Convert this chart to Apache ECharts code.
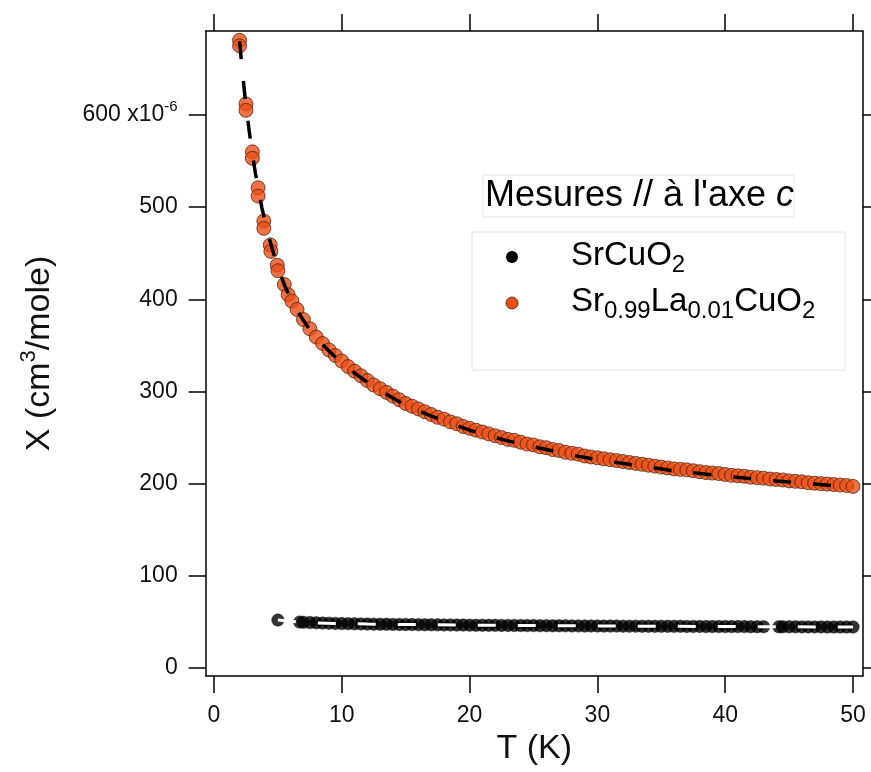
<!DOCTYPE html>
<html><head><meta charset="utf-8">
<script src="https://cdn.jsdelivr.net/npm/echarts@6/dist/echarts.min.js"></script>
<style>html,body{margin:0;padding:0;background:#fff}#c{width:871px;height:772px}</style>
</head><body><div id="c"></div>
<script>
// Sr0.99La0.01CuO2 measured points (T in K, chi in 1e-6 cm3/mole)
const laT = [2.0,2.0,2.5,2.5,3.0,3.0,3.45,3.45,3.9,3.9,4.4,4.45,4.95,5.0,5.5,5.8,6.1,6.5,7.0,7.5,8.0,8.5,9.0,9.5,10.0,
  10.5,11,11.5,12,12.5,13,13.5,14,14.5,15,15.5,16,16.5,17,17.5,18,18.5,19,19.5,20,20.5,21,21.5,22,22.5,23,23.5,24,24.5,25,
  25.5,26,26.5,27,27.5,28,28.5,29,29.5,30,30.5,31,31.5,32,32.5,33,33.5,34,34.5,35,35.5,36,36.5,37,37.5,38,38.5,39,39.5,40,
  40.5,41,41.5,42,42.5,43,43.5,44,44.5,45,45.5,46,46.5,47,47.5,48,48.5,49,49.5,50];
const laChi = [681,675,612,605,560,553,521,512,485,477,459,452,437,431,416,405,398,389,378,368,359,352,345,339,333,
  327,322,317,312,307,303,299,295,291,287,284,281,278,275,272,270,267,265,262,260,258,256,254,252,250,248,247,245,243,242,
  240,239,237,236,234,233,232,230,229,228,227,226,225,224,223,222,221,220,219,218,217,216,215.5,215,214,213,212,211.5,211,210,
  209,208.5,208,207,206.5,206,205,204.5,204,203,202.5,202,201,200.5,200,199.5,199,198.5,198,197];
// Fit curve for Sr0.99La0.01CuO2
const laFitT = [2.0,2.25,2.5,2.75,3.0,3.25,3.5,3.75,4.0,4.5,5.0,5.5,6.0,6.5,7,7.5,8,9,10,11,12,13,14,15,16,18,20,22,24,26,28,30,33,36,40,44,47,50];
const laFitChi = [680,643,610,583,558,536,517,499,484,457,435,416,401,388,377,367,358,344,331,320,310,301,293,285,279,268,258,250,243,237,231,226,220,214,208,203,199.5,196];
// SrCuO2 measured points
const srT = [5.0,6.7,7.0,7.5,8.0,8.5,9.0,9.5,10.0,10.5,11,11.5,12,12.5,13,13.5,14,14.5,15,15.5,16,16.5,17,17.5,18,18.5,19,19.5,20,
  20.5,21,21.5,22,22.5,23,23.5,24,24.5,25,25.5,26,26.5,27,27.5,28,28.5,29,29.5,30,30.5,31,31.5,32,32.5,33,33.5,34,34.5,35,
  35.5,36,36.5,37,37.5,38,38.5,39,39.5,40,40.5,41,41.5,42,42.5,43,44.2,44.5,45,45.5,46,46.5,47,47.5,48,48.5,49,49.5,50];
const srChi = [52,49.8,49.6,49.3,49.0,48.8,48.6,48.4,48.2,48.1,48.0,47.8,47.7,47.6,47.5,47.4,47.3,47.2,47.2,47.1,47.0,46.9,46.9,46.8,46.7,46.7,46.6,46.6,46.5,
  46.4,46.4,46.3,46.3,46.2,46.2,46.1,46.1,46.0,46.0,45.9,45.9,45.8,45.8,45.8,45.7,45.7,45.6,45.6,45.6,45.5,45.5,45.5,45.4,45.4,45.4,45.3,45.3,45.3,45.3,
  45.2,45.2,45.2,45.1,45.1,45.1,45.0,45.0,45.0,45.0,44.9,44.9,44.9,44.8,44.8,44.8,44.7,44.7,44.7,44.7,44.6,44.6,44.6,44.6,44.5,44.5,44.5,44.5,44.5];
// Fit curve for SrCuO2
const srFitT = [5.0,6,7,8,10,12,15,20,25,30,35,40,45,50];
const srFitChi = [52,50.6,49.6,49.0,48.2,47.7,47.2,46.5,46.0,45.6,45.3,45.0,44.7,44.5];
// tick values
const xTicks = [0,10,20,30,40,50];
const yTicks = [0,100,200,300,400,500,600];

const zip = (a,b) => a.map((v,i) => [v,b[i]]);
const FONT = 'Liberation Sans, Arial, sans-serif';
const X_MIN=-0.65, X_MAX=50.76, Y_MIN=-8.68, Y_MAX=691.1;
const lineS = {color:'#000', width:1.5};
const ORANGE = '#EA4F16';

const chart = echarts.init(document.getElementById('c'), null, {renderer:'canvas'});
const axX = (pos, main) => ({
  type:'value', position:pos, min:X_MIN, max:X_MAX,
  axisLine:{show:true, onZero:false, lineStyle:lineS},
  axisTick:{show:true, length:17, customValues:xTicks, lineStyle:lineS},
  axisLabel:{show:main, customValues:xTicks, margin:28, fontSize:23, color:'#111', fontFamily:FONT},
  splitLine:{show:false},
  name: main ? 'T (K)' : '', nameLocation:'middle', nameGap:56,
  nameTextStyle:{fontSize:34, color:'#111', fontFamily:FONT}
});
const axY = (pos, main) => ({
  type:'value', position:pos, min:Y_MIN, max:Y_MAX,
  axisLine:{show:true, onZero:false, lineStyle:lineS},
  axisTick:{show:true, length:17, customValues:yTicks, lineStyle:lineS},
  axisLabel:{show:main, customValues:yTicks, margin:28, fontSize:23, color:'#111', fontFamily:FONT,
    formatter: v => v === 600 ? '600 x10{sup|-6}' : String(v),
    rich:{sup:{fontSize:15, fontFamily:FONT, color:'#111', padding:[0,0,16,0]}}},
  splitLine:{show:false},
  name: main ? 'X (cm{sup|3}/mole)' : '', nameLocation:'middle', nameGap:144,
  nameTextStyle:{fontSize:34, color:'#111', fontFamily:FONT,
    rich:{sup:{fontSize:22, fontFamily:FONT, color:'#111', padding:[0,0,22,0]}}}
});

chart.setOption({
  animation:false,
  backgroundColor:'#fff',
  grid:{left:205.7, right:8.3, top:31, bottom:96, containLabel:false},
  xAxis:[axX('bottom', true), axX('top', false)],
  yAxis:[axY('left', true), axY('right', false)],
  series:[
    {type:'scatter', name:'SrCuO2', data:zip(srT, srChi), symbol:'circle', symbolSize:12.5,
     itemStyle:{color:'#000', borderColor:'#000', borderWidth:0.5}, z:2, silent:true},
    {type:'line', data:zip(srFitT, srFitChi), showSymbol:false, symbol:'none',
     lineStyle:{color:'#fff', width:3, type:[18,22]}, z:3, silent:true},
    {type:'scatter', name:'Sr0.99La0.01CuO2', data:zip(laT, laChi), symbol:'circle', symbolSize:14,
     itemStyle:{color:ORANGE, borderColor:'#4a1800', borderWidth:0.9}, z:2, silent:true},
    {type:'line', data:zip(laFitT, laFitChi), showSymbol:false, symbol:'none',
     lineStyle:{color:'#000', width:3.5, type:[18,22]}, z:4, silent:true}
  ],
  graphic:[
    {type:'rect', shape:{x:483, y:175, width:311, height:42}, style:{fill:'#fff', stroke:'#e4e4e4', lineWidth:1}, z:10},
    {type:'text', x:485, y:196, z:11, style:{
      text:"Mesures // à l'axe {i|c}", font:'36px ' + FONT, fill:'#000', verticalAlign:'middle', align:'left',
      rich:{i:{fontStyle:'italic', fontSize:36, fontFamily:FONT, fill:'#000'}}}},
    {type:'rect', shape:{x:472, y:232, width:373, height:138}, style:{fill:'#fff', stroke:'#e4e4e4', lineWidth:1}, z:10},
    {type:'circle', shape:{cx:512, cy:257, r:6}, style:{fill:'#000'}, z:11},
    {type:'circle', shape:{cx:512, cy:303, r:6}, style:{fill:ORANGE, stroke:'#4a1800', lineWidth:0.8}, z:11},
    {type:'text', x:571, y:256, z:11, style:{
      text:'SrCuO{sub|2}', font:'33px ' + FONT, fill:'#000', verticalAlign:'middle', align:'left',
      rich:{sub:{fontSize:24, fontFamily:FONT, fill:'#000', padding:[18,0,0,0]}}}},
    {type:'text', x:571, y:302, z:11, style:{
      text:'Sr{sub|0.99}La{sub|0.01}CuO{sub|2}', font:'33px ' + FONT, fill:'#000', verticalAlign:'middle', align:'left',
      rich:{sub:{fontSize:24, fontFamily:FONT, fill:'#000', padding:[18,0,0,0]}}}}
  ]
});
</script>
</body></html>
